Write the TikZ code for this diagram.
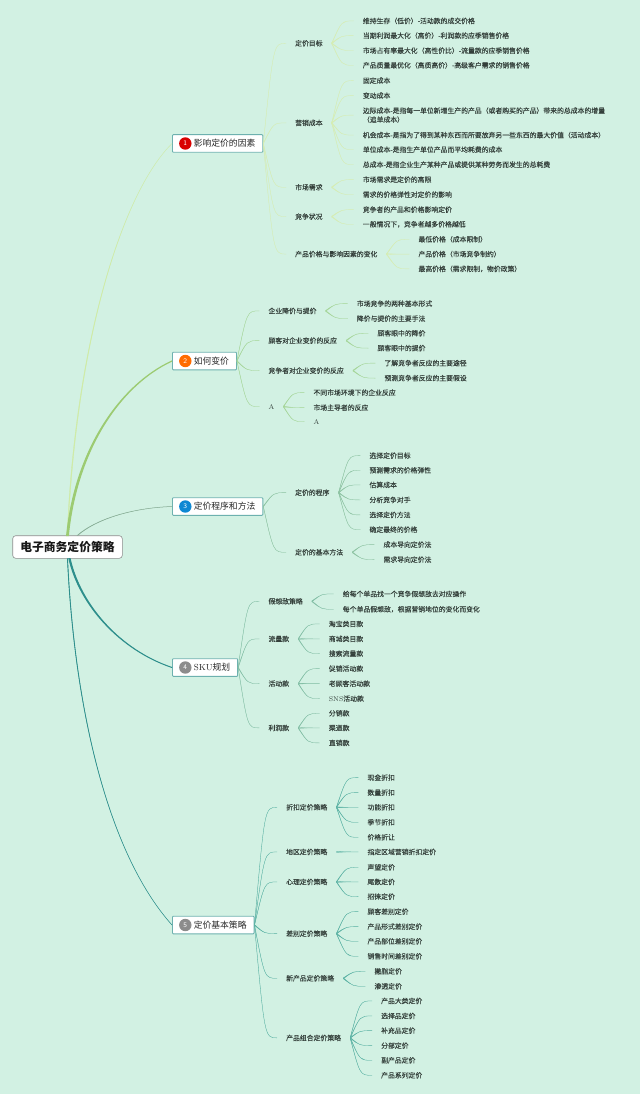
\documentclass[tikz,border=0pt]{standalone}
\usepackage{fontspec}
\newfontfamily\cjk[FakeBold=0.05]{Noto Sans CJK SC}
\newfontfamily\cjkt{Noto Sans CJK SC}
\usetikzlibrary{calc}
\definecolor{bgc}{HTML}{D2F1E3}
\definecolor{ca}{HTML}{D6EDB4}
\definecolor{cb}{HTML}{A6D69A}
\definecolor{cc}{HTML}{8FC4A4}
\definecolor{cd}{HTML}{84BFA6}
\definecolor{ce}{HTML}{5DB3A5}
\definecolor{ba}{HTML}{CFEBA6}
\definecolor{bb}{HTML}{9CCB72}
\definecolor{bc}{HTML}{86AC94}
\definecolor{bd}{HTML}{2E8F8C}
\definecolor{be}{HTML}{2E8F8C}
\definecolor{txt}{HTML}{34403B}
\tikzset{
 leaf/.style={anchor=west,inner xsep=9pt,inner ysep=0pt,xshift=-9pt,yshift=-0.6pt,text=txt,align=left,font=\cjk\fontsize{6.85}{9}\selectfont},
 topic/.style={anchor=west,draw=#1,line width=0.9pt,fill=white,inner xsep=7.5pt,inner ysep=0pt,minimum height=17.6pt,rounded corners=0.8pt,text=black!85,font=\cjkt\fontsize{8.8}{10}\selectfont},
 badge/.style={circle,fill=#1,inner sep=0pt,minimum size=12.4pt,text=white,font=\sffamily\fontsize{7}{8}\selectfont},
 rootbox/.style={draw=black!45,line width=0.6pt,fill=white,rounded corners=3pt,minimum width=109.6pt,minimum height=22.6pt,inner sep=0pt,font=\cjkt\bfseries\fontsize{11.8}{13}\selectfont,text=black!90}
}
\newcommand\lf[4]{\node[leaf] (#1) at (#2,#3) {#4};}
\newcommand\br[3]{\filldraw[#3,line width=0.3pt] let \p1=(#1.east),\p2=(#2.west) in
 ({\x1},{\y1+0.45pt}) .. controls ({0.55*\x1+0.45*\x2},{\y2}) .. (\p2) .. controls ({0.55*\x1+0.45*\x2},{\y2}) .. ({\x1},{\y1-0.45pt}) -- cycle;}
\newcommand\tbr[6]{\filldraw[#1] ([xshift=-#6]#2) .. controls ([xshift=-#6]#4) and (#5) .. (#3) .. controls (#5) and ([xshift=#6]#4) .. ([xshift=#6]#2) -- cycle;}
\begin{document}
\begin{tikzpicture}[x=1pt,y=-1pt]
\fill[bgc] (0,0) rectangle (640,1094);
\useasboundingbox (0,0) rectangle (640,1094);
% root and topics
\coordinate (rootc) at (67.5,547);
\node[rootbox] (root) at (rootc) {电子商务定价策略};
\coordinate (rn) at (root.north);
\coordinate (rs) at (root.south);
\coordinate (rn3) at ([xshift=10pt]root.north);
\coordinate (rs4) at ([xshift=2pt]root.south);
\node[topic=bd!70!white] (t1) at (172,143.5) {\hspace{13.8pt}影响定价的因素};
\node[topic=bd!70!white] (t2) at (172,361) {\hspace{13.8pt}如何变价};
\node[topic=bd!70!white] (t3) at (172,506.5) {\hspace{13.8pt}定价程序和方法};
\node[topic=bd!70!white] (t4) at (172,667.5) {\hspace{13.8pt}{\rmfamily SKU}规划};
\node[topic=bd!70!white] (t5) at (172,925) {\hspace{13.8pt}定价基本策略};
\node[badge={red!85!black}] (n1) at ([xshift=13.3pt]t1.west) {1};
\node[badge={orange!85!red}] (n2) at ([xshift=13.3pt]t2.west) {2};
\node[badge={cyan!70!blue}] (n3) at ([xshift=13.3pt]t3.west) {3};
\node[badge=black!45] (n4) at ([xshift=13.3pt]t4.west) {4};
\node[badge=black!45] (n5) at ([xshift=13.3pt]t5.west) {5};
\tbr{ba,line width=0.3pt}{rn}{t1.west}{75,350}{120,195}{0.4pt}
\tbr{bb,line width=1.2pt}{rn}{t2.west}{76,450}{120,385}{0.8pt}
\tbr{bc,line width=0.5pt}{rn3}{t3.west}{95,520}{130,508}{0.2pt}
\tbr{bd,line width=1pt}{rs4}{t4.west}{80,605}{120,650}{0.6pt}
\tbr{be,line width=0.5pt}{rs}{t5.west}{74,700}{105,850}{0.2pt}
% branch 1
\lf{a1}{295}{42.7}{定价目标}
\lf{a2}{295}{122.3}{营销成本}
\lf{a3}{295}{186.7}{市场需求}
\lf{a4}{295}{216}{竞争状况}
\lf{a5}{295}{253.5}{产品价格与影响因素的变化}
\lf{a11}{362.7}{20.3}{维持生存（低价）-活动款的成交价格}
\lf{a12}{362.7}{35}{当期利润最大化（高价）-利润款的应季销售价格}
\lf{a13}{362.7}{50}{市场占有率最大化（高性价比）-流量款的应季销售价格}
\lf{a14}{362.7}{64.7}{产品质量最优化（高质高价）-高级客户需求的销售价格}
\lf{a21}{362.7}{80}{固定成本}
\lf{a22}{362.7}{95}{变动成本}
\lf{a23}{362.7}{114.5}{边际成本-是指每一单位新增生产的产品（或者购买的产品）带来的总成本的增量\\（追单成本）}
\lf{a24}{362.7}{134.5}{机会成本-是指为了得到某种东西而所要放弃另一些东西的最大价值（活动成本）}
\lf{a25}{362.7}{149}{单位成本-是指生产单位产品而平均耗费的成本}
\lf{a26}{362.7}{164}{总成本-是指企业生产某种产品或提供某种劳务而发生的总耗费}
\lf{a31}{362.7}{179}{市场需求是定价的高限}
\lf{a32}{362.7}{194}{需求的价格弹性对定价的影响}
\lf{a41}{362.7}{209}{竞争者的产品和价格影响定价}
\lf{a42}{362.7}{223.7}{一般情况下，竞争者越多价格越低}
\lf{a51}{418.3}{238.7}{最低价格（成本限制）}
\lf{a52}{418.3}{253.5}{产品价格（市场竞争制约）}
\lf{a53}{418.3}{268.3}{最高价格（需求限制，物价政策）}
\br{t1}{a1}{ca}\br{t1}{a2}{ca}\br{t1}{a3}{ca}\br{t1}{a4}{ca}\br{t1}{a5}{ca}
\br{a1}{a11}{ca}\br{a1}{a12}{ca}\br{a1}{a13}{ca}\br{a1}{a14}{ca}
\br{a2}{a21}{ca}\br{a2}{a22}{ca}\br{a2}{a23}{ca}\br{a2}{a24}{ca}\br{a2}{a25}{ca}\br{a2}{a26}{ca}
\br{a3}{a31}{ca}\br{a3}{a32}{ca}\br{a4}{a41}{ca}\br{a4}{a42}{ca}
\br{a5}{a51}{ca}\br{a5}{a52}{ca}\br{a5}{a53}{ca}
% branch 2
\lf{b1}{268.3}{310.3}{企业降价与提价}
\lf{b2}{268.3}{340}{顾客对企业变价的反应}
\lf{b3}{268.3}{370}{竞争者对企业变价的反应}
\lf{b4}{268.3}{406}{\rmfamily A}
\lf{b11}{356.7}{303}{市场竞争的两种基本形式}
\lf{b12}{356.7}{318}{降价与提价的主要手法}
\lf{b21}{377.3}{332.7}{顾客眼中的降价}
\lf{b22}{377.3}{347.5}{顾客眼中的提价}
\lf{b31}{384.3}{362.5}{了解竞争者反应的主要途径}
\lf{b32}{384.3}{377.5}{预测竞争者反应的主要假设}
\lf{b41}{313.3}{392}{不同市场环境下的企业反应}
\lf{b42}{313.3}{407}{市场主导者的反应}
\lf{b43}{313.3}{421}{\rmfamily A}
\br{t2}{b1}{cb}\br{t2}{b2}{cb}\br{t2}{b3}{cb}\br{t2}{b4}{cb}
\br{b1}{b11}{cb}\br{b1}{b12}{cb}\br{b2}{b21}{cb}\br{b2}{b22}{cb}
\br{b3}{b31}{cb}\br{b3}{b32}{cb}\br{b4}{b41}{cb}\br{b4}{b42}{cb}\br{b4}{b43}{cb}
% branch 3
\lf{c1}{295}{492}{定价的程序}
\lf{c2}{295}{551.7}{定价的基本方法}
\lf{c11}{369.3}{455}{选择定价目标}
\lf{c12}{369.3}{469.7}{预测需求的价格弹性}
\lf{c13}{369.3}{484.3}{估算成本}
\lf{c14}{369.3}{499.3}{分析竞争对手}
\lf{c15}{369.3}{514.3}{选择定价方法}
\lf{c16}{369.3}{529}{确定最终的价格}
\lf{c21}{383.3}{544}{成本导向定价法}
\lf{c22}{383.3}{559}{需求导向定价法}
\br{t3}{c1}{cc}\br{t3}{c2}{cc}
\br{c1}{c11}{cc}\br{c1}{c12}{cc}\br{c1}{c13}{cc}\br{c1}{c14}{cc}\br{c1}{c15}{cc}\br{c1}{c16}{cc}
\br{c2}{c21}{cc}\br{c2}{c22}{cc}
% branch 4
\lf{d1}{268.3}{600.7}{假想敌策略}
\lf{d2}{268.3}{638.3}{流量款}
\lf{d3}{268.3}{683}{活动款}
\lf{d4}{268.3}{727.3}{利润款}
\lf{d11}{342.7}{593.3}{给每个单品找一个竞争假想敌去对应操作}
\lf{d12}{342.7}{608.7}{每个单品假想敌，根据营销地位的变化而变化}
\lf{d21}{328.7}{623.3}{淘宝类目款}
\lf{d22}{328.7}{638.3}{商城类目款}
\lf{d23}{328.7}{653}{搜索流量款}
\lf{d31}{328.7}{668}{促销活动款}
\lf{d32}{328.7}{683}{老顾客活动款}
\lf{d33}{328.7}{698}{{\rmfamily SNS}活动款}
\lf{d41}{328.7}{712.7}{分销款}
\lf{d42}{328.7}{727.3}{渠道款}
\lf{d43}{328.7}{742.3}{直销款}
\br{t4}{d1}{cd}\br{t4}{d2}{cd}\br{t4}{d3}{cd}\br{t4}{d4}{cd}
\br{d1}{d11}{cd}\br{d1}{d12}{cd}
\br{d2}{d21}{cd}\br{d2}{d22}{cd}\br{d2}{d23}{cd}
\br{d3}{d31}{cd}\br{d3}{d32}{cd}\br{d3}{d33}{cd}
\br{d4}{d41}{cd}\br{d4}{d42}{cd}\br{d4}{d43}{cd}
% branch 5
\lf{e1}{286}{806.7}{折扣定价策略}
\lf{e2}{286}{851.3}{地区定价策略}
\lf{e3}{286}{881.3}{心理定价策略}
\lf{e4}{286}{933}{差别定价策略}
\lf{e5}{286}{977.7}{新产品定价策略}
\lf{e6}{286}{1037.3}{产品组合定价策略}
\lf{e11}{367.3}{777}{现金折扣}
\lf{e12}{367.3}{792}{数量折扣}
\lf{e13}{367.3}{806.7}{功能折扣}
\lf{e14}{367.3}{821.7}{季节折扣}
\lf{e15}{367.3}{836.7}{价格折让}
\lf{e21}{367.3}{851.3}{指定区域营销折扣定价}
\lf{e31}{367.3}{866.7}{声望定价}
\lf{e32}{367.3}{881.3}{尾数定价}
\lf{e33}{367.3}{896}{招徕定价}
\lf{e41}{367.3}{911}{顾客差别定价}
\lf{e42}{367.3}{926}{产品形式差别定价}
\lf{e43}{367.3}{940.7}{产品部位差别定价}
\lf{e44}{367.3}{955.7}{销售时间差别定价}
\lf{e51}{374.3}{970.7}{撇脂定价}
\lf{e52}{374.3}{985.7}{渗透定价}
\lf{e61}{381}{1000.3}{产品大类定价}
\lf{e62}{381}{1015.3}{选择品定价}
\lf{e63}{381}{1030}{补充品定价}
\lf{e64}{381}{1045}{分部定价}
\lf{e65}{381}{1059.7}{副产品定价}
\lf{e66}{381}{1074.7}{产品系列定价}
\br{t5}{e1}{ce}\br{t5}{e2}{ce}\br{t5}{e3}{ce}\br{t5}{e4}{ce}\br{t5}{e5}{ce}\br{t5}{e6}{ce}
\br{e1}{e11}{ce}\br{e1}{e12}{ce}\br{e1}{e13}{ce}\br{e1}{e14}{ce}\br{e1}{e15}{ce}
\br{e2}{e21}{ce}
\br{e3}{e31}{ce}\br{e3}{e32}{ce}\br{e3}{e33}{ce}
\br{e4}{e41}{ce}\br{e4}{e42}{ce}\br{e4}{e43}{ce}\br{e4}{e44}{ce}
\br{e5}{e51}{ce}\br{e5}{e52}{ce}
\br{e6}{e61}{ce}\br{e6}{e62}{ce}\br{e6}{e63}{ce}\br{e6}{e64}{ce}\br{e6}{e65}{ce}\br{e6}{e66}{ce}
\end{tikzpicture}
\end{document}
